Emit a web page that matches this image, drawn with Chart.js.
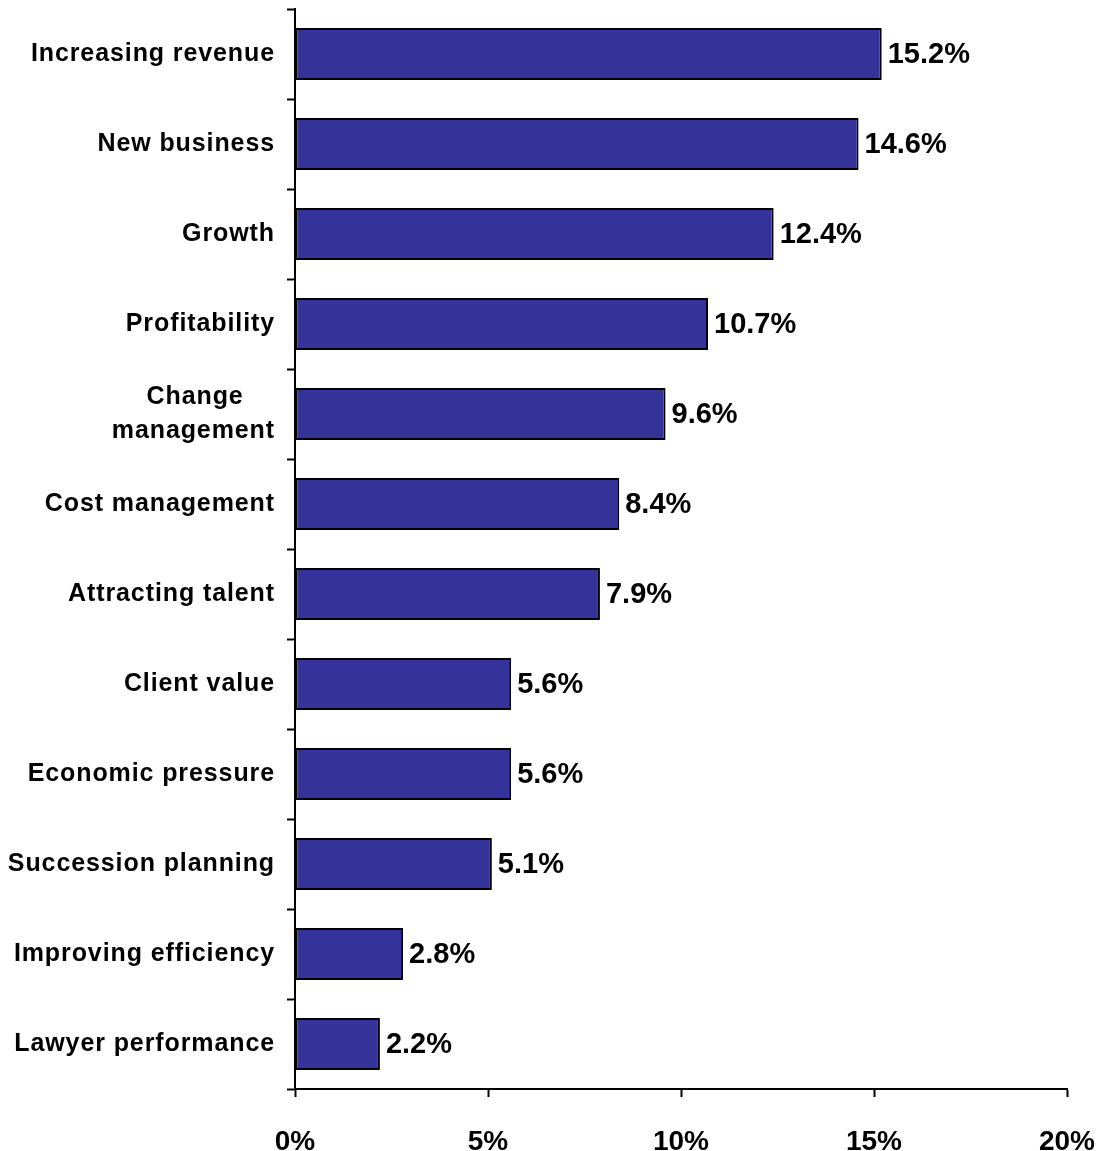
<!DOCTYPE html>
<html>
<head>
<meta charset="utf-8">
<script src="https://cdn.jsdelivr.net/npm/chart.js@4/dist/chart.umd.min.js"></script>
<style>
  html, body { margin: 0; padding: 0; background: #fff; }
  #wrap { width: 1103px; height: 1151px; }
</style>
</head>
<body>
<div id="wrap"><canvas id="chart" width="1103" height="1151"></canvas></div>
<script>
// chart data
var categories = [
    'Increasing revenue',
    'New business',
    'Growth',
    'Profitability',
    ['Change\u00a0\u00a0\u00a0\u00a0', 'management'],
    'Cost management',
    'Attracting talent',
    'Client value',
    'Economic pressure',
    'Succession planning',
    'Improving efficiency',
    'Lawyer performance'
];
var shares = [15.2, 14.6, 12.4, 10.7, 9.6, 8.4, 7.9, 5.6, 5.6, 5.1, 2.8, 2.2];
var xTicks = [0, 5, 10, 15, 20];

var FONT = 'Arial, "Liberation Sans", sans-serif';

// letter spacing for the category labels only
var spacingPlugin = {
    id: 'spacing',
    beforeDraw: function (chart) {
        chart.ctx.letterSpacing = '0.9px';
    },
    beforeDatasetsDraw: function (chart) {
        chart.ctx.letterSpacing = '0px';
    }
};

// value labels at the end of each bar
var valueLabels = {
    id: 'valueLabels',
    afterDraw: function (chart) {
        var ctx = chart.ctx;
        var meta = chart.getDatasetMeta(0);
        ctx.save();
        ctx.letterSpacing = '0px';
        ctx.font = 'bold 29px ' + FONT;
        ctx.fillStyle = '#000';
        ctx.textAlign = 'left';
        ctx.textBaseline = 'middle';
        meta.data.forEach(function (bar, i) {
            ctx.fillText(shares[i].toFixed(1) + '%', bar.x + 6, bar.y + 1);
        });
        ctx.restore();
    }
};

new Chart(document.getElementById('chart'), {
    type: 'bar',
    data: {
        labels: categories,
        datasets: [{
            data: shares,
            backgroundColor: '#333399',
            borderColor: '#000',
            borderWidth: 2,
            borderSkipped: false,
            barPercentage: 0.58,
            categoryPercentage: 1
        }]
    },
    options: {
        indexAxis: 'y',
        responsive: false,
        animation: false,
        events: [],
        layout: { padding: { top: 9, right: 36, left: 0, bottom: 0 } },
        plugins: {
            legend: { display: false },
            tooltip: { enabled: false }
        },
        scales: {
            x: {
                min: 0,
                max: 20,
                afterBuildTicks: function (scale) {
                    scale.ticks = xTicks.map(function (v) { return { value: v }; });
                },
                afterFit: function (scale) {
                    scale.height = 62;
                    scale.paddingLeft = 0;
                    scale.paddingRight = 0;
                },
                grid: {
                    drawOnChartArea: false,
                    tickLength: 8,
                    tickColor: '#000',
                    tickWidth: 2
                },
                border: { display: true, color: '#000', width: 2 },
                ticks: {
                    z: 1,
                    padding: 28,
                    color: '#000',
                    font: { family: FONT, size: 28, weight: 'bold' },
                    maxRotation: 0,
                    callback: function (v) { return v + '%'; }
                }
            },
            y: {
                afterFit: function (scale) {
                    scale.width = 295;
                    scale.paddingTop = 0;
                    scale.paddingBottom = 0;
                },
                grid: {
                    offset: true,
                    drawOnChartArea: false,
                    tickLength: 8,
                    tickColor: '#000',
                    tickWidth: 2
                },
                border: { display: true, color: '#000', width: 2 },
                ticks: {
                    padding: 12,
                    color: '#000',
                    autoSkip: false,
                    font: { family: FONT, size: 25, weight: 'bold', lineHeight: 1.35 }
                }
            }
        }
    },
    plugins: [spacingPlugin, valueLabels]
});
</script>
</body>
</html>
